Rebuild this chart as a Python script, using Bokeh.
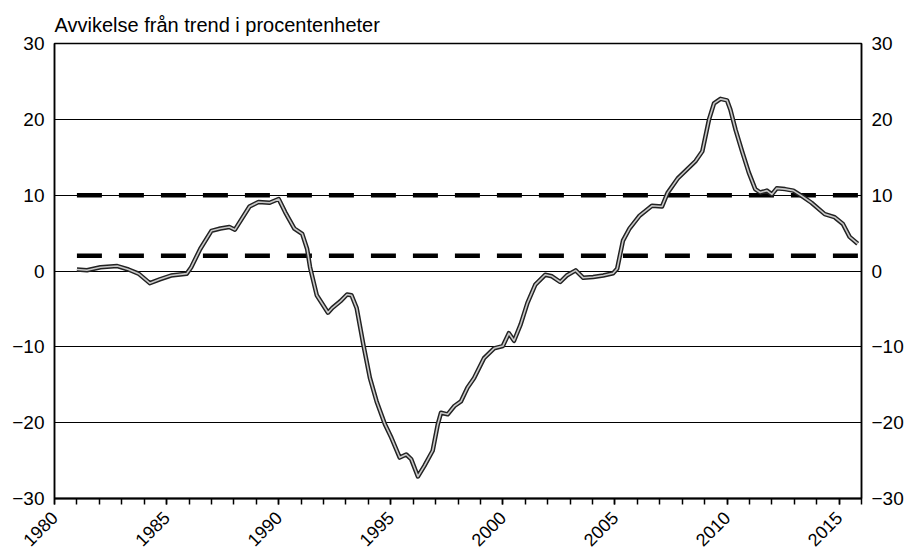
import math
from bokeh.plotting import figure
from bokeh.models import Range1d, LinearAxis, FixedTicker, SingleIntervalTicker
from bokeh.embed import file_html
from bokeh.resources import INLINE

# ---- data ----
years = [
    1981.0, 1981.45, 1982.05, 1982.8, 1983.3, 1983.75, 1984.25, 1984.7, 1985.2, 1985.9,
    1986.1, 1986.5, 1987.0, 1987.4, 1987.8, 1988.05, 1988.7, 1989.1, 1989.6, 1990.0,
    1990.3, 1990.7, 1991.05, 1991.27, 1991.4, 1991.7, 1992.2, 1992.4, 1992.75, 1993.05,
    1993.25, 1993.48, 1993.78, 1994.07, 1994.37, 1994.74, 1995.03, 1995.4, 1995.69, 1995.91,
    1996.21, 1996.5, 1996.87, 1997.1, 1997.24, 1997.54, 1997.84, 1998.13, 1998.42, 1998.72,
    1999.16, 1999.61, 2000.0, 2000.27, 2000.5, 2000.8, 2001.1, 2001.45, 2001.89, 2002.19,
    2002.56, 2002.85, 2003.25, 2003.59, 2004.03, 2004.48, 2004.92, 2005.1, 2005.36, 2005.65,
    2006.1, 2006.65, 2007.1, 2007.35, 2007.8, 2008.6, 2008.9, 2009.2, 2009.42, 2009.71,
    2010.0, 2010.15, 2010.38, 2010.67, 2010.97, 2011.26, 2011.48, 2011.78, 2012.0, 2012.22,
    2012.59, 2012.96, 2013.33, 2013.77, 2014.36, 2014.8, 2015.17, 2015.47, 2015.83,
]
deviation = [
    0.2, 0.1, 0.5, 0.65, 0.2, -0.35, -1.6, -1.1, -0.6, -0.35,
    0.5, 2.9, 5.3, 5.6, 5.8, 5.45, 8.5, 9.1, 9.0, 9.5,
    7.7, 5.6, 4.9, 2.9, 0.5, -3.2, -5.5, -4.85, -4.0, -3.1,
    -3.2, -4.9, -9.75, -14.1, -17.2, -20.2, -22.0, -24.6, -24.2, -24.8,
    -27.1, -25.7, -23.7, -20.2, -18.7, -18.9, -17.8, -17.2, -15.4, -14.1,
    -11.5, -10.2, -9.9, -8.2, -9.2, -7.0, -4.2, -1.8, -0.5, -0.7,
    -1.45, -0.6, 0.08, -0.9, -0.8, -0.6, -0.3, 0.3, 4.0, 5.6,
    7.3, 8.6, 8.5, 10.3, 12.2, 14.5, 15.8, 20.0, 22.1, 22.7,
    22.5, 21.3, 18.65, 15.8, 13.0, 10.8, 10.35, 10.6, 10.1, 10.9,
    10.8, 10.6, 9.9, 9.0, 7.5, 7.1, 6.2, 4.5, 3.6,
]
threshold_levels = [10, 2]
threshold_years = [1981, 2016]

x_ticks = [1980, 1985, 1990, 1995, 2000, 2005, 2010, 2015]
x_tick_labels = ["1980", "1985", "1990", "1995", "2000", "2005", "2010", "2015"]
y_ticks = [-30, -20, -10, 0, 10, 20, 30]
y_tick_labels = ["\u221230", "\u221220", "\u221210", "0", "10", "20", "30"]
title_text = "Avvikelse fr\u00e5n trend i procentenheter"

FONT = "Liberation Sans"

p = figure(width=906, height=555, x_range=Range1d(1980, 2016), y_range=Range1d(-30, 30),
           output_backend="svg", toolbar_location=None,
           min_border_left=54, min_border_right=40, min_border_top=43, min_border_bottom=55)

p.title.text = title_text
p.title.text_font = FONT
p.title.text_font_size = "20px"
p.title.text_font_style = "normal"
p.title.text_color = "black"
p.title.align = "left"
p.title.standoff = 16

p.outline_line_color = "black"
p.outline_line_width = 1.5
p.background_fill_color = "white"
p.border_fill_color = "white"

# grid
p.xgrid.grid_line_color = None
p.ygrid.ticker = FixedTicker(ticks=y_ticks)
p.ygrid.grid_line_color = "black"
p.ygrid.grid_line_width = 1.2

# x axis
xa = p.xaxis[0]
xa.ticker = SingleIntervalTicker(interval=5, num_minor_ticks=5)
xa.major_label_overrides = {t: s for t, s in zip(x_ticks, x_tick_labels)}
xa.major_label_orientation = math.pi / 4
xa.major_label_text_font = FONT
xa.major_label_text_font_size = "18px"
xa.major_label_text_color = "black"
xa.axis_line_color = "black"
xa.axis_line_width = 2
xa.major_tick_in = 0
xa.major_tick_out = 6
xa.minor_tick_in = 0
xa.minor_tick_out = 6
xa.major_tick_line_color = "black"
xa.minor_tick_line_color = "black"
xa.major_tick_line_width = 1.5
xa.minor_tick_line_width = 1.5
xa.major_label_standoff = 10

# y axes
def style_y(ax):
    ax.ticker = FixedTicker(ticks=y_ticks)
    ax.major_label_overrides = {t: s for t, s in zip(y_ticks, y_tick_labels)}
    ax.major_label_text_font = FONT
    ax.major_label_text_font_size = "19px"
    ax.major_label_text_color = "black"
    ax.axis_line_color = "black"
    ax.axis_line_width = 1.5
    ax.major_tick_in = 0
    ax.major_tick_out = 0
    ax.minor_tick_line_color = None
    ax.major_label_standoff = 10

style_y(p.yaxis[0])
ra = LinearAxis()
style_y(ra)
p.add_layout(ra, "right")

# dashed threshold lines
for lvl in threshold_levels:
    p.line(threshold_years, [lvl, lvl], line_color="black", line_width=4.5, line_dash="25 17")

# series drawn as a dark outlined grey line
p.line(years, deviation, line_color="#222222", line_width=4.5, line_join="round")
p.line(years, deviation, line_color="#c8c8c8", line_width=1.6, line_join="round")

open("out.html", "w").write(file_html(p, INLINE))
